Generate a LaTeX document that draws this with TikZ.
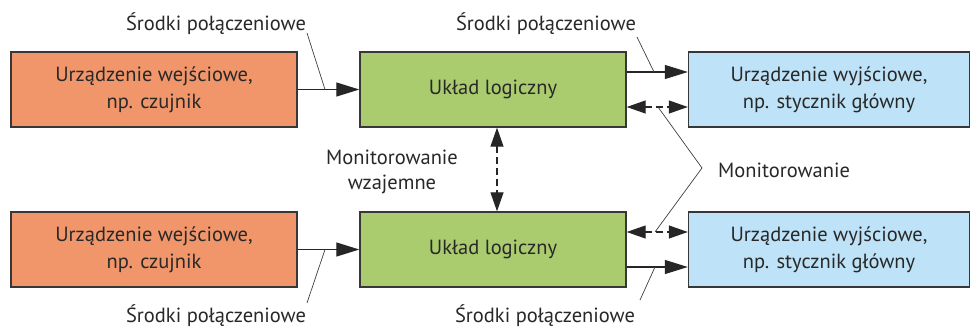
\documentclass[tikz,border=0pt]{standalone}
\usepackage{fontspec}
\setmainfont{PT Sans}
\usetikzlibrary{arrows.meta}
\definecolor{inorange}{RGB}{240,150,106}
\definecolor{logreen}{RGB}{170,204,110}
\definecolor{outblue}{RGB}{190,226,247}
\definecolor{txt}{RGB}{40,40,40}
\definecolor{edge}{RGB}{55,55,55}
\begin{document}
\begin{tikzpicture}[x=1pt,y=-1pt,
  box/.style={draw=edge,line width=1.4pt,minimum height=75pt,inner sep=0pt,align=center,text=txt,font=\fontsize{20.5}{27}\selectfont},
  inbox/.style={box,fill=inorange,minimum width=286pt},
  logbox/.style={box,fill=logreen,minimum width=266pt},
  outbox/.style={box,fill=outblue,minimum width=281pt},
  conn/.style={line width=1.2pt,draw=black!85,-{Triangle[length=23pt,width=14pt]}},
  mon/.style={line width=1.2pt,draw=black!85,dash pattern=on 7pt off 4pt,{Triangle[length=19pt,width=13pt]}-{Triangle[length=19pt,width=13pt]}},
  lead/.style={line width=0.7pt,draw=black!75},
  lab/.style={text=txt,font=\fontsize{20.5}{25}\selectfont,align=center,inner sep=0pt}]
\useasboundingbox (0,0) rectangle (971,329);
\fill[white] (0,0) rectangle (971,329);
% boxes
\node[inbox]  (in1)  at (154,89.5)  {Urządzenie wejściowe,\\np. czujnik};
\node[logbox] (log1) at (493,89.5)  {Układ logiczny};
\node[outbox] (out1) at (829,89.5)  {Urządzenie wyjściowe,\\np. stycznik główny};
\node[inbox]  (in2)  at (154,249.5) {Urządzenie wejściowe,\\np. czujnik};
\node[logbox] (log2) at (493,249.5) {Układ logiczny};
\node[outbox] (out2) at (829,249.5) {Urządzenie wyjściowe,\\np. stycznik główny};
% connectors
\draw[conn] (in1.east) -- (log1.west);
\draw[conn] (in2.east) -- (log2.west);
\draw[conn] ([yshift=17.5pt]log1.east) -- ([yshift=17.5pt]out1.west);
\draw[mon]  ([yshift=-17.5pt]log1.east) -- ([yshift=-17.5pt]out1.west);
\draw[mon]  ([yshift=17.5pt]log2.east) -- ([yshift=17.5pt]out2.west);
\draw[conn] ([yshift=-17.5pt]log2.east) -- ([yshift=-17.5pt]out2.west);
\draw[mon]  ([xshift=4pt]log1.south) -- ([xshift=4pt]log2.north);
% labels
\node[lab] (l1) at (216,24)  {Środki połączeniowe};
\node[lab] (l2) at (546,24)  {Środki połączeniowe};
\node[lab] (l3) at (216,316) {Środki połączeniowe};
\node[lab] (l4) at (545,316) {Środki połączeniowe};
\node[lab] (mw) at (392,172) {Monitorowanie\\wzajemne};
\node[lab,anchor=west] (mo) at (718,170) {Monitorowanie};
% leader lines
\coordinate (l1a) at (307,33);  \coordinate (l1b) at (325,89.5);
\coordinate (l2a) at (637,37);  \coordinate (l2b) at (654,72);
\coordinate (l3a) at (307,303); \coordinate (l3b) at (325,249.5);
\coordinate (l4a) at (640,300); \coordinate (l4b) at (655,267);
\coordinate (apex) at (702,168);
\coordinate (m1) at (658,107); \coordinate (m2) at (655,232);
\draw[lead] (l1a) -- (l1b);
\draw[lead] (l2a) -- (l2b);
\draw[lead] (l3a) -- (l3b);
\draw[lead] (l4a) -- (l4b);
\draw[lead] (m1) -- (apex) -- (m2);
\end{tikzpicture}
\end{document}
